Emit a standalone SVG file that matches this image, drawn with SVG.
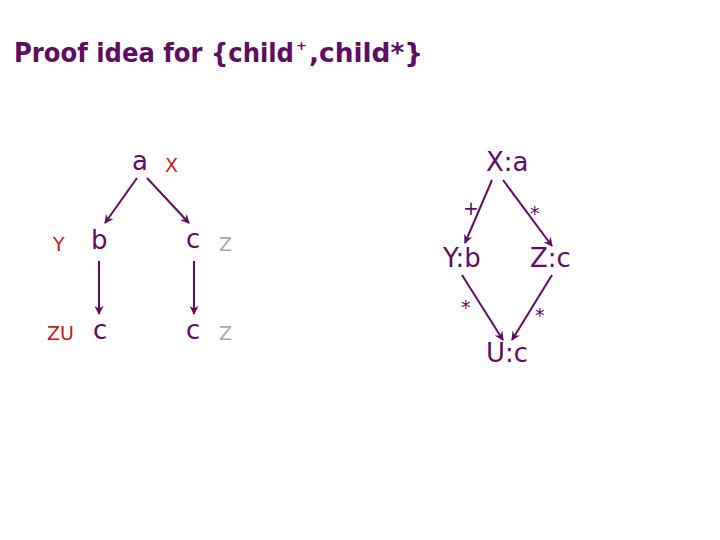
<svg xmlns="http://www.w3.org/2000/svg" width="720" height="540" viewBox="0 0 720 540">
<defs>
<style>
.t{font-family:"DejaVu Sans",Verdana,sans-serif;fill:#5e0e5e}
.n{font-size:26px}
.h{font-size:26px;font-weight:bold}
.r{font-family:"DejaVu Sans",sans-serif;font-size:19px;fill:#c41a1a}
.g{font-family:"DejaVu Sans",sans-serif;font-size:19px;fill:#a8a8a8}
.s{font-family:"DejaVu Sans",sans-serif;font-size:19px;fill:#5e0e5e}
.e{stroke:#5e0e5e;stroke-width:2;fill:none;marker-end:url(#ah)}
</style>
<marker id="ah" viewBox="0 0 10 10" refX="9" refY="5" markerWidth="9" markerHeight="9" orient="auto" markerUnits="userSpaceOnUse">
<path d="M0,0 L10,5 L0,10 L3,5 z" fill="#5e0e5e"/>
</marker>
</defs>
<rect width="720" height="540" fill="#fff"/>
<g id="title">
<text class="t h" x="14" y="62" textLength="280" lengthAdjust="spacingAndGlyphs">Proof idea for {child</text>
<text class="t" x="296" y="50" font-size="13" font-weight="bold">+</text>
<text class="t h" x="309" y="62" textLength="114" lengthAdjust="spacingAndGlyphs">,child*}</text>
</g>

<g id="connectors">
<line class="e" x1="137" y1="178" x2="105" y2="223"/>
<line class="e" x1="147" y1="178" x2="189" y2="223"/>
<line class="e" x1="99" y1="261" x2="99" y2="314"/>
<line class="e" x1="194" y1="261" x2="194" y2="314"/>
<line class="e" x1="492" y1="180" x2="465" y2="243"/>
<line class="e" x1="503" y1="180" x2="552" y2="246"/>
<line class="e" x1="462" y1="275" x2="503" y2="340"/>
<line class="e" x1="552" y1="275" x2="512" y2="340"/>
</g>

<g id="left-a"><text class="t n" x="132" y="170">a</text><text class="r" x="165" y="172">X</text></g>
<g id="left-b"><text class="t n" x="91" y="249">b</text><text class="r" x="53" y="251">Y</text></g>
<g id="left-c1"><text class="t n" x="186" y="248">c</text><text class="g" x="219" y="251">Z</text></g>
<g id="left-c2"><text class="t n" x="93" y="339">c</text><text class="r" x="47" y="340">ZU</text></g>
<g id="left-c3"><text class="t n" x="186" y="339">c</text><text class="g" x="219" y="340">Z</text></g>

<g id="Xa"><text class="t n" x="486" y="171">X:a</text></g>
<g id="Yb"><text class="t n" x="443" y="267">Y:b</text></g>
<g id="Zc"><text class="t n" x="530" y="267">Z:c</text></g>
<g id="Uc"><text class="t n" x="486" y="362">U:c</text></g>

<g id="edge-labels">
<text class="s" x="463" y="215">+</text>
<text class="s" x="530" y="220">*</text>
<text class="s" x="461" y="314">*</text>
<text class="s" x="535" y="322">*</text>
</g>
</svg>
